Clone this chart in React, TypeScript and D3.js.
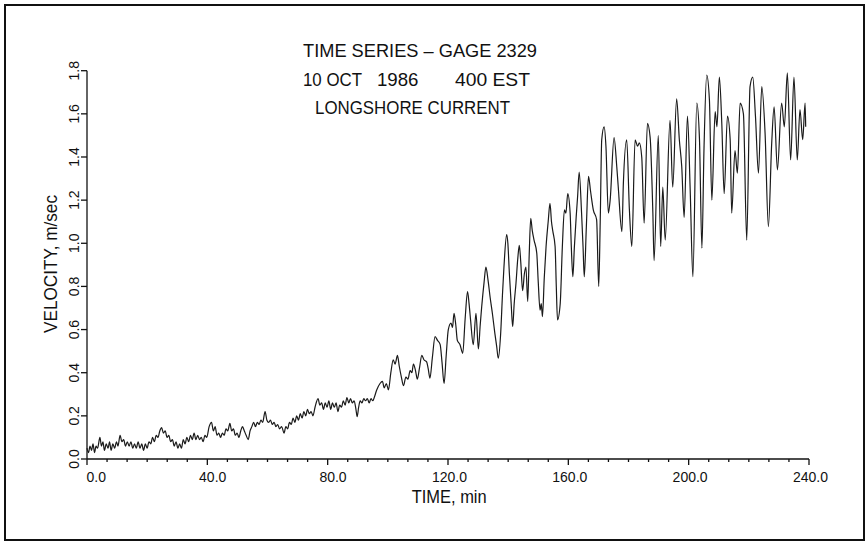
import React, { useEffect } from 'react';
import * as d3 from 'd3';

// velocity record, [time (min), velocity (m/sec)]
const earlySeries: [number, number][] = [
  [0, 0.05], [0.5, 0.03], [1, 0.06], [1.5, 0.04], [2, 0.07], [2.5, 0.03], [3, 0.06], [3.5, 0.05],
  [4.3, 0.1], [4.8, 0.06], [5.3, 0.08], [5.8, 0.04], [6.4, 0.07], [7, 0.05], [7.5, 0.08], [8, 0.04],
  [8.6, 0.07], [9.2, 0.05], [9.8, 0.08], [10.3, 0.06], [11, 0.11], [11.6, 0.08], [12.2, 0.09], [12.8, 0.06],
  [13.4, 0.08], [14, 0.06], [14.6, 0.08], [15.2, 0.05], [15.8, 0.07], [16.4, 0.05], [17, 0.08], [17.6, 0.05],
  [18.2, 0.07], [18.8, 0.04], [19.4, 0.07], [20, 0.05], [20.6, 0.08], [21.2, 0.07], [21.8, 0.1], [22.4, 0.08],
  [23, 0.11], [23.6, 0.1], [24.2, 0.13], [24.8, 0.145], [25.4, 0.12], [26, 0.13], [26.6, 0.1], [27.2, 0.11],
  [27.8, 0.08], [28.4, 0.09], [29, 0.06], [29.6, 0.08], [30.2, 0.05], [30.8, 0.07], [31.4, 0.05], [32, 0.09],
  [32.6, 0.07], [33.2, 0.1], [33.8, 0.08], [34.4, 0.11], [35, 0.09], [35.6, 0.12], [36.2, 0.09], [36.8, 0.11],
  [37.4, 0.09], [38, 0.1], [38.6, 0.08], [39.2, 0.11], [39.8, 0.1], [40.6, 0.15], [41.4, 0.17], [42, 0.13],
  [42.6, 0.15], [43.2, 0.11], [43.8, 0.12], [44.4, 0.1], [45, 0.12], [45.6, 0.11], [46.2, 0.14], [46.8, 0.13],
  [47.5, 0.165], [48.1, 0.13], [48.7, 0.14], [49.3, 0.11], [49.9, 0.12], [50.5, 0.1], [51.1, 0.13], [51.7, 0.15],
  [52.3, 0.13], [52.9, 0.11], [53.6, 0.09], [54.2, 0.13], [54.8, 0.15], [55.4, 0.17], [56, 0.15], [56.6, 0.17],
  [57.2, 0.16], [57.8, 0.18], [58.4, 0.17], [59.2, 0.22], [59.8, 0.18], [60.4, 0.17], [61, 0.18], [61.6, 0.16],
  [62.2, 0.17], [62.8, 0.15], [63.4, 0.16], [64, 0.14], [64.7, 0.15], [65.5, 0.12], [66.1, 0.15], [66.7, 0.14],
  [67.3, 0.17], [67.9, 0.16], [68.5, 0.19], [69.1, 0.17], [69.7, 0.2], [70.3, 0.18], [70.9, 0.21], [71.5, 0.19],
  [72.1, 0.22], [72.7, 0.2], [73.3, 0.23], [73.9, 0.21], [74.5, 0.22], [75.1, 0.2], [75.8, 0.24], [76.8, 0.28],
  [77.4, 0.25], [78, 0.26], [78.6, 0.23], [79.2, 0.26], [79.8, 0.24], [80.4, 0.27], [81, 0.23], [81.6, 0.26],
  [82.2, 0.24], [82.8, 0.26], [83.4, 0.22], [84, 0.25], [84.6, 0.24], [85.2, 0.27], [85.8, 0.25], [86.4, 0.285],
  [87, 0.26], [87.6, 0.28], [88.2, 0.26], [88.8, 0.27], [89.4, 0.23], [89.8, 0.196], [90.3, 0.24], [90.8, 0.27],
  [91.4, 0.26], [92, 0.28], [92.6, 0.27], [93.2, 0.28], [93.8, 0.26], [94.4, 0.28], [95, 0.27], [95.6, 0.29],
  [96.3, 0.32],
];

const middleSeries: [number, number][] = [
  [97.4, 0.35], [98.2, 0.36], [98.8, 0.33], [99.5, 0.35], [100.2, 0.32], [101, 0.4], [101.8, 0.46], [102.4, 0.44],
  [103.2, 0.48], [103.8, 0.43], [104.5, 0.38], [105.2, 0.34], [106, 0.38], [106.7, 0.37], [107.4, 0.41], [108, 0.4],
  [108.5, 0.44], [109.2, 0.41], [109.8, 0.37], [110.5, 0.42], [111.3, 0.48], [112, 0.46], [112.9, 0.45], [113.4, 0.42],
  [114, 0.375], [114.8, 0.47], [115.7, 0.567], [116.5, 0.55], [117.4, 0.53], [118, 0.45], [118.7, 0.35], [119.4, 0.48],
  [120.1, 0.6], [121, 0.63], [121.5, 0.61], [122, 0.675], [122.6, 0.62], [123.1, 0.55], [124, 0.53], [124.9, 0.49],
  [125.7, 0.65], [126.5, 0.776], [127, 0.72], [127.5, 0.645], [128.4, 0.53], [129.3, 0.675], [130.1, 0.51], [130.7, 0.62],
  [131.2, 0.706], [132, 0.82], [132.6, 0.89], [133.3, 0.83], [134, 0.75], [134.8, 0.67], [135.6, 0.58], [136.2, 0.52],
  [136.7, 0.467], [137.5, 0.58], [138.1, 0.76], [138.6, 0.89], [139.5, 1.04], [139.9, 1.0], [140.4, 0.86], [141, 0.72],
  [141.5, 0.613], [142, 0.72], [142.6, 0.815], [143.2, 0.93], [143.7, 0.99], [144.2, 0.91], [144.8, 0.78], [145.4, 0.86],
  [145.9, 0.89], [146.5, 0.73], [147, 0.95], [147.5, 1.116], [148, 1.06], [148.6, 1.015], [149.5, 0.955], [150, 0.82],
  [150.6, 0.69], [151, 0.72], [151.4, 0.66], [152, 0.84], [152.6, 0.985], [153.3, 1.1], [153.9, 1.185], [154.4, 1.1],
  [154.8, 1.06], [155.6, 0.985], [156, 0.8], [156.4, 0.645], [157.3, 0.72], [158, 0.98], [158.7, 1.155], [159.2, 1.14],
  [159.8, 1.23], [160.6, 1.14], [161, 0.98], [161.5, 0.845], [162, 0.98], [162.6, 1.12], [163.1, 1.22], [163.6, 1.33],
  [164.4, 1.14], [164.9, 0.98], [165.3, 0.845], [166, 1.08], [166.7, 1.31], [167.4, 1.24], [168.3, 1.155], [169.4, 1.11],
  [170.1, 0.8],
];

const lateSeries: [number, number][] = [
  [170.6, 1.1], [171.1, 1.48], [171.9, 1.54], [172.5, 1.45], [173.3, 1.14], [173.9, 1.2], [175.2, 1.49], [176.1, 1.355],
  [176.6, 1.26], [177.8, 1.054], [178.3, 1.28], [179.4, 1.48], [180.3, 1.155], [181.1, 0.985], [182.2, 1.48], [183, 1.45],
  [183.6, 1.465], [184.4, 1.4], [185.2, 1.093], [186.3, 1.556], [187.2, 1.49], [188.1, 1.14], [188.5, 0.92], [189.9, 1.5],
  [190.7, 0.985], [191.4, 1.26], [192.2, 1.015], [193.8, 1.57], [194.7, 1.26], [196, 1.67], [196.9, 1.48], [197.7, 1.355],
  [198.5, 1.12], [199.6, 1.59], [200.5, 1.25], [201.4, 0.845], [202.7, 1.65], [203.6, 1.48], [204.4, 0.977], [205.1, 1.44],
  [206, 1.78], [206.9, 1.664], [207.7, 1.2], [208.8, 1.61], [209.4, 1.54], [210.2, 1.77], [211, 1.56], [211.8, 1.23],
  [212.9, 1.59], [213.8, 1.48], [214.3, 1.14], [215.4, 1.43], [216.2, 1.325], [217.1, 1.65], [218.2, 1.6], [219.3, 1.015],
  [220.4, 1.726], [221.3, 1.77], [222.2, 1.59], [223.2, 1.325], [224.3, 1.726], [225.4, 1.51], [226.5, 1.077], [227.6, 1.463],
  [228.4, 1.633], [229.5, 1.34], [230.9, 1.65], [231.8, 1.54], [232.8, 1.79], [233.9, 1.386], [235, 1.77], [236.1, 1.386],
  [237, 1.62], [237.9, 1.48], [238.7, 1.65], [238.9, 1.54],
];

const xMajorTicks = [0, 40, 80, 120, 160, 200, 240];
const xTickLabels = ['0.0', '40.0', '80.0', '120.0', '160.0', '200.0', '240.0'];
const yTicks = [0, 0.2, 0.4, 0.6, 0.8, 1.0, 1.2, 1.4, 1.6, 1.8];
const yTickLabels = ['0.0', '0.2', '0.4', '0.6', '0.8', '1.0', '1.2', '1.4', '1.6', '1.8'];

const W = 867;
const H = 543;
const sans = '"Liberation Sans", Arial, sans-serif';
const narrow = '"Liberation Sans Narrow", "Liberation Sans", sans-serif';

export default function App() {
  useEffect(() => {
    document.body.style.margin = '0';
  }, []);

  const x = d3.scaleLinear().domain([0, 240]).range([87, 809]);
  const y = d3.scaleLinear().domain([0, 1.8]).range([459, 70.7]);

  const series = [...earlySeries, ...middleSeries, ...lateSeries];
  const line = d3
    .line<[number, number]>()
    .x((d) => x(d[0]))
    .y((d) => y(d[1]))
    .curve(d3.curveMonotoneX);

  // small ticks between the labelled ones
  const xMinorTicks = d3.range(0, 241, 40 / 6).filter((t) => !xMajorTicks.includes(Math.round(t * 100) / 100));

  return (
    <svg width={W} height={H} style={{ display: 'block', background: '#fff' }}>
      <rect x={5} y={5} width={859} height={535} fill="none" stroke="#111" strokeWidth={2} />

      {/* title */}
      <g fontFamily={narrow} fontSize={19} fill="#111">
        <text x={303} y={57.3} textLength={234} lengthAdjust="spacingAndGlyphs">TIME SERIES – GAGE 2329</text>
        <text x={303} y={86} textLength={59} lengthAdjust="spacingAndGlyphs">10 OCT</text>
        <text x={377} y={86} textLength={41.5} lengthAdjust="spacingAndGlyphs">1986</text>
        <text x={455} y={86} textLength={75} lengthAdjust="spacingAndGlyphs">400 EST</text>
        <text x={315} y={114.3} textLength={195} lengthAdjust="spacingAndGlyphs">LONGSHORE CURRENT</text>
      </g>

      {/* axes */}
      <g stroke="#111" strokeWidth={1.3} fill="none">
        <line x1={x(0)} x2={x(240)} y1={y(0)} y2={y(0)} />
        <line x1={x(0)} x2={x(0)} y1={y(0)} y2={y(1.8)} />
        {xMajorTicks.map((t) => (
          <line key={'M' + t} x1={x(t)} x2={x(t)} y1={y(0)} y2={y(0) + 6} />
        ))}
        {xMinorTicks.map((t, i) => (
          <line key={'m' + i} x1={x(t)} x2={x(t)} y1={y(0)} y2={y(0) + 3} />
        ))}
        {yTicks.map((v) => (
          <line key={'y' + v} x1={x(0) - 6} x2={x(0)} y1={y(v)} y2={y(v)} />
        ))}
      </g>

      <g fontFamily={sans} fontSize={14} fill="#111" textAnchor="end">
        {xMajorTicks.map((t, i) => (
          <text key={t} x={x(t) + 19} y={482}>{xTickLabels[i]}</text>
        ))}
      </g>
      <g fontFamily={sans} fontSize={14} fill="#111" textAnchor="middle">
        {yTicks.map((v, i) => (
          <text key={v} transform={`translate(79,${y(v)}) rotate(-90)`}>{yTickLabels[i]}</text>
        ))}
      </g>

      <text x={411.7} y={503.3} fontFamily={narrow} fontSize={19} fill="#111" textLength={75} lengthAdjust="spacingAndGlyphs">
        TIME, min
      </text>
      <text
        transform="translate(57,264) rotate(-90)"
        textAnchor="middle"
        fontFamily={sans}
        fontSize={18}
        fill="#111"
        textLength={138}
        lengthAdjust="spacingAndGlyphs"
      >
        VELOCITY, m/sec
      </text>

      <path d={line(series) ?? ''} fill="none" stroke="#1a1a1a" strokeWidth={1.2} strokeLinejoin="round" />
    </svg>
  );
}
